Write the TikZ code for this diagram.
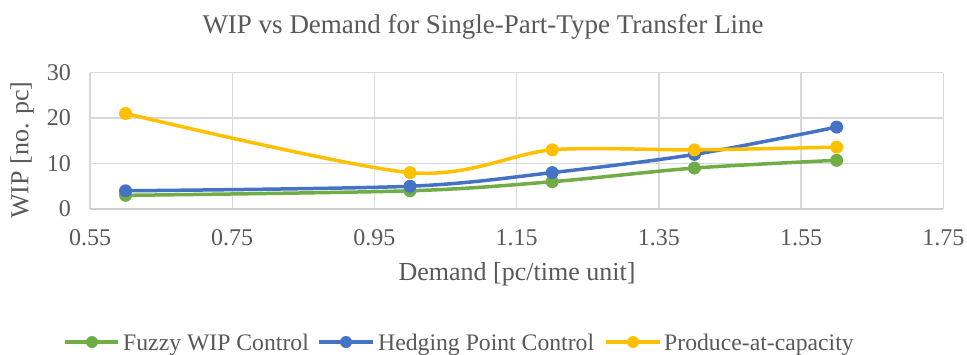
\documentclass[tikz,border=0pt]{standalone}
\usepackage{fontspec}
\setmainfont{Liberation Serif}
\definecolor{txt}{HTML}{595959}
\definecolor{grid}{HTML}{D9D9D9}
\definecolor{cgreen}{HTML}{70AD47}
\definecolor{cblue}{HTML}{4472C4}
\definecolor{cyellow}{HTML}{FFC000}
\tikzset{
  ticklab/.style={text=txt, font=\fontsize{24}{28}\selectfont, inner sep=0pt},
  axtitle/.style={text=txt, font=\fontsize{26}{30}\selectfont, inner sep=0pt},
  charttitle/.style={text=txt, font=\fontsize{27}{31}\selectfont, inner sep=0pt},
  leglab/.style={text=txt, font=\fontsize{23.7}{28}\selectfont, inner sep=0pt, anchor=base west},
  gridline/.style={draw=grid, line width=1.3pt},
  series/.style={line width=3.5pt, line cap=round, line join=round},
  dot/.style={circle, inner sep=0pt, minimum size=13pt},
}
\begin{document}
\begin{tikzpicture}[x=1pt,y=-1pt]
\useasboundingbox (0,0) rectangle (967,354);
\fill[white] (0,0) rectangle (967,354);
% title
\node[charttitle, anchor=base] (title) at (483,33.5) {WIP vs Demand for Single-Part-Type Transfer Line};
% data scope
\begin{scope}[shift={(-301.1,209)}, x=711.1pt, y=4.55pt]
  \foreach \v in {10,20,30} \draw[gridline] (0.55,\v) -- (1.75,\v);
  \foreach \d in {0.55,0.75,0.95,1.15,1.35,1.55,1.75} \draw[gridline] (\d,0) -- (\d,30);
  \draw[draw=grid!80!black!60, line width=1.3pt] (0.55,0) -- (1.75,0);
  % y ticks
  \foreach \v in {0,10,20,30} \node[ticklab, anchor=east] (yt\v) at ([xshift=-19pt]0.55,\v) {\v};
  % x ticks
  \foreach \d [count=\i] in {0.55,0.75,0.95,1.15,1.35,1.55,1.75} \node[ticklab, anchor=base] (xt\i) at ([yshift=-36pt]\d,0) {\d};
  % series
  \draw[series, cgreen] plot[smooth, tension=0.5] coordinates {(0.6,3) (1.0,4) (1.2,6) (1.4,9) (1.6,10.7)};
  \foreach \p in {(0.6,3),(1.0,4),(1.2,6),(1.4,9),(1.6,10.7)} \node[dot, fill=cgreen] at \p {};
  \draw[series, cblue] plot[smooth, tension=0.5] coordinates {(0.6,4) (1.0,5) (1.2,8) (1.4,12) (1.6,18)};
  \foreach \p in {(0.6,4),(1.0,5),(1.2,8),(1.4,12),(1.6,18)} \node[dot, fill=cblue] at \p {};
  \draw[series, cyellow] plot[smooth, tension=0.5] coordinates {(0.6,21) (1.0,8) (1.2,13) (1.4,13) (1.6,13.6)};
  \foreach \p in {(0.6,21),(1.0,8),(1.2,13),(1.4,13),(1.6,13.6)} \node[dot, fill=cyellow] at \p {};
\end{scope}
% axis titles
\node[axtitle, rotate=90] (ytitle) at (22,150) {WIP [no. pc]};
\node[axtitle, anchor=base] (xtitle) at (517,280) {Demand [pc/time unit]};
% legend
\coordinate (l1a) at (65,342); \coordinate (l1b) at (118,342);
\draw[series, cgreen, line cap=butt] (l1a) -- (l1b);
\node[dot, fill=cgreen, minimum size=12pt] (m1) at (92,342) {};
\node[leglab] (leg1) at (123,350) {Fuzzy WIP Control};
\coordinate (l2a) at (319,342); \coordinate (l2b) at (373,342);
\draw[series, cblue, line cap=butt] (l2a) -- (l2b);
\node[dot, fill=cblue, minimum size=12pt] (m2) at (346,342) {};
\node[leglab] (leg2) at (378,350) {Hedging Point Control};
\coordinate (l3a) at (606,342); \coordinate (l3b) at (660,342);
\draw[series, cyellow, line cap=butt] (l3a) -- (l3b);
\node[dot, fill=cyellow, minimum size=12pt] (m3) at (633,342) {};
\node[leglab] (leg3) at (664,350) {Produce-at-capacity};
\end{tikzpicture}
\end{document}
